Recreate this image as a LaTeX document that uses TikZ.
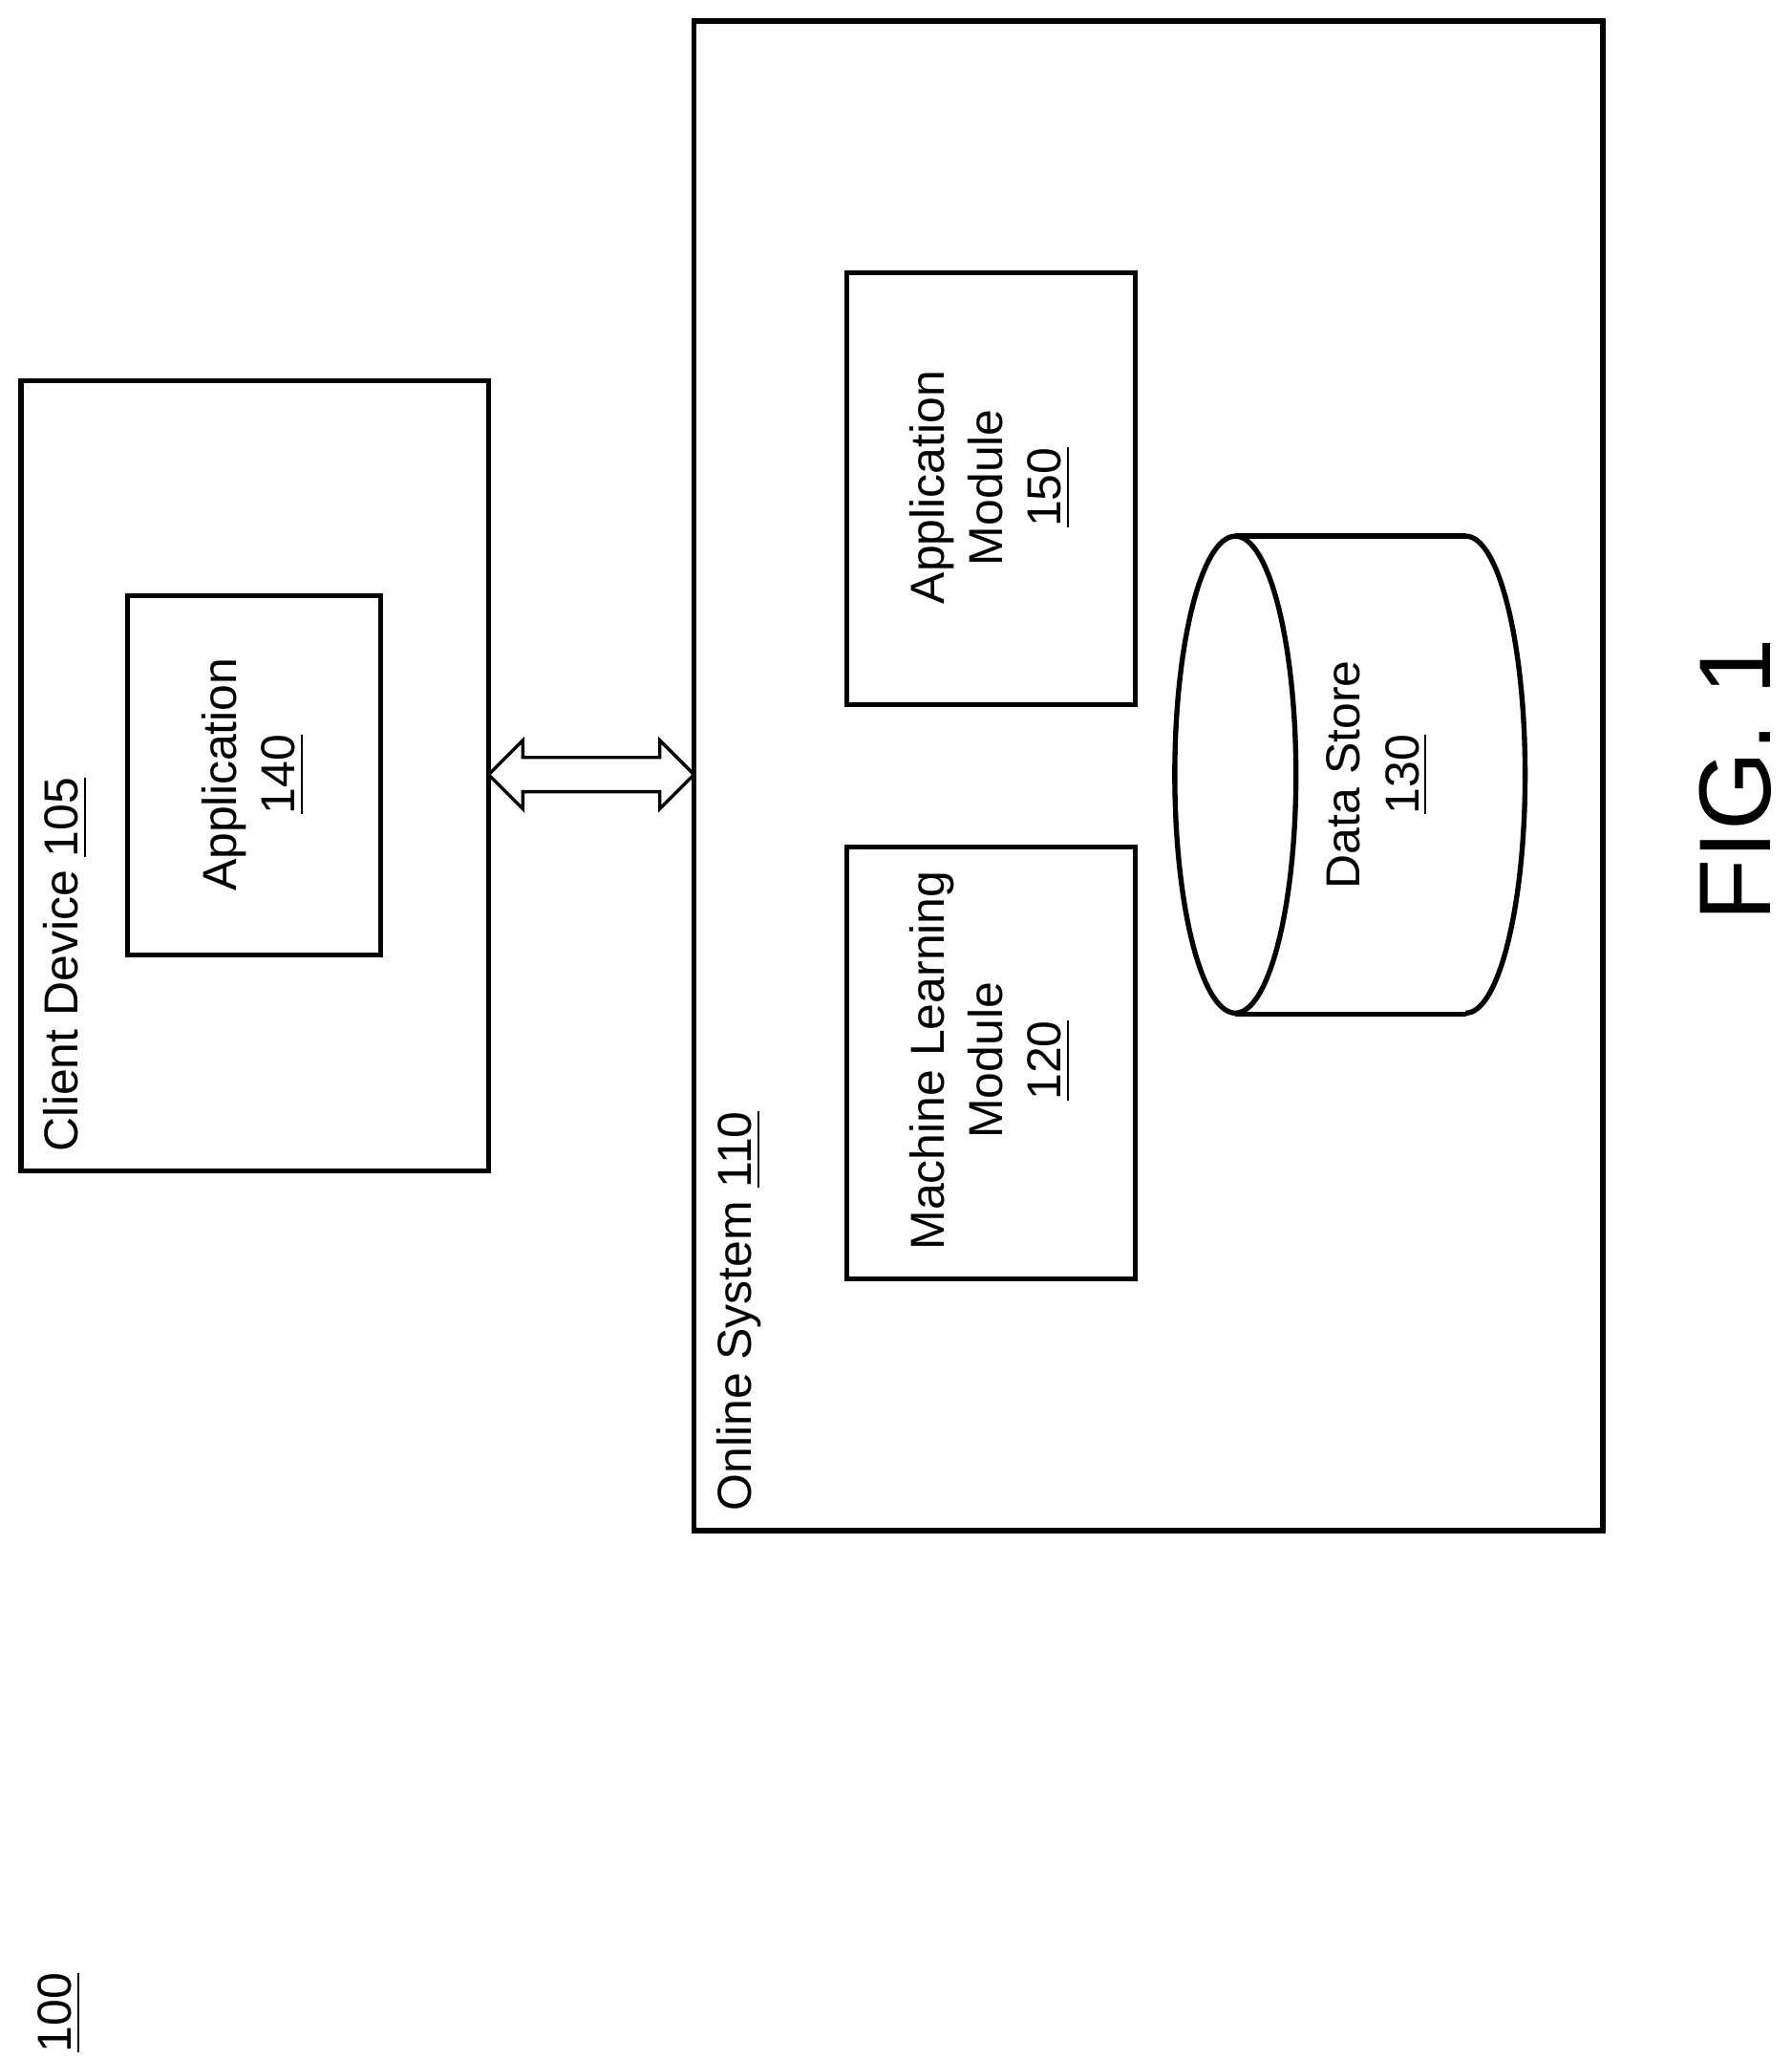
\documentclass[tikz,border=0pt]{standalone}
\usepackage{fontspec}
\setmainfont{Liberation Sans}
\begin{document}
\begin{tikzpicture}[x=0.01cm,y=-0.01cm,line width=1.1pt,
 lbl/.style={rotate=90,font=\fontsize{10.3}{12.6}\selectfont,align=center,inner sep=0pt}]
\useasboundingbox (0,0) rectangle (1360,1563);
\draw (16,289) rectangle (371,889);
\draw (97,452) rectangle (289,725);
\draw (527,16) rectangle (1217,1162);
\draw (643,207) rectangle (862,535);
\draw (643,643) rectangle (862,971);
% cylinder
\draw (938,588) ellipse [x radius=46, y radius=181];
\draw (938,407) -- (1113,407);
\draw (938,770) -- (1113,770);
\draw (1113,407) arc[start angle=-90, end angle=90, x radius=45, y radius=181];
% double arrow
\draw[line width=0.7pt] (371,588) -- (397,562) -- (397,575) -- (501,575) -- (501,562) -- (527,588) -- (501,614) -- (501,601) -- (397,601) -- (397,614) -- cycle;
\node[lbl,anchor=west] (cd) at (50,876) {Client Device \underline{105}};
\node[lbl,anchor=west] (os) at (561,1149) {Online System \underline{110}};
\node[lbl] (app) at (192,588) {Application\\\underline{140}};
\node[lbl] (am) at (752,370) {Application\\Module\\\underline{150}};
\node[lbl] (ml) at (752,805) {Machine Learning\\Module\\\underline{120}};
\node[lbl] (ds) at (1046,588) {Data Store\\\underline{130}};
\node[lbl] (n100) at (45,1528) {\underline{100}};
\node[lbl,font=\fontsize{22}{26}\selectfont] (fig) at (1318,592) {FIG. 1};
\end{tikzpicture}
\end{document}
